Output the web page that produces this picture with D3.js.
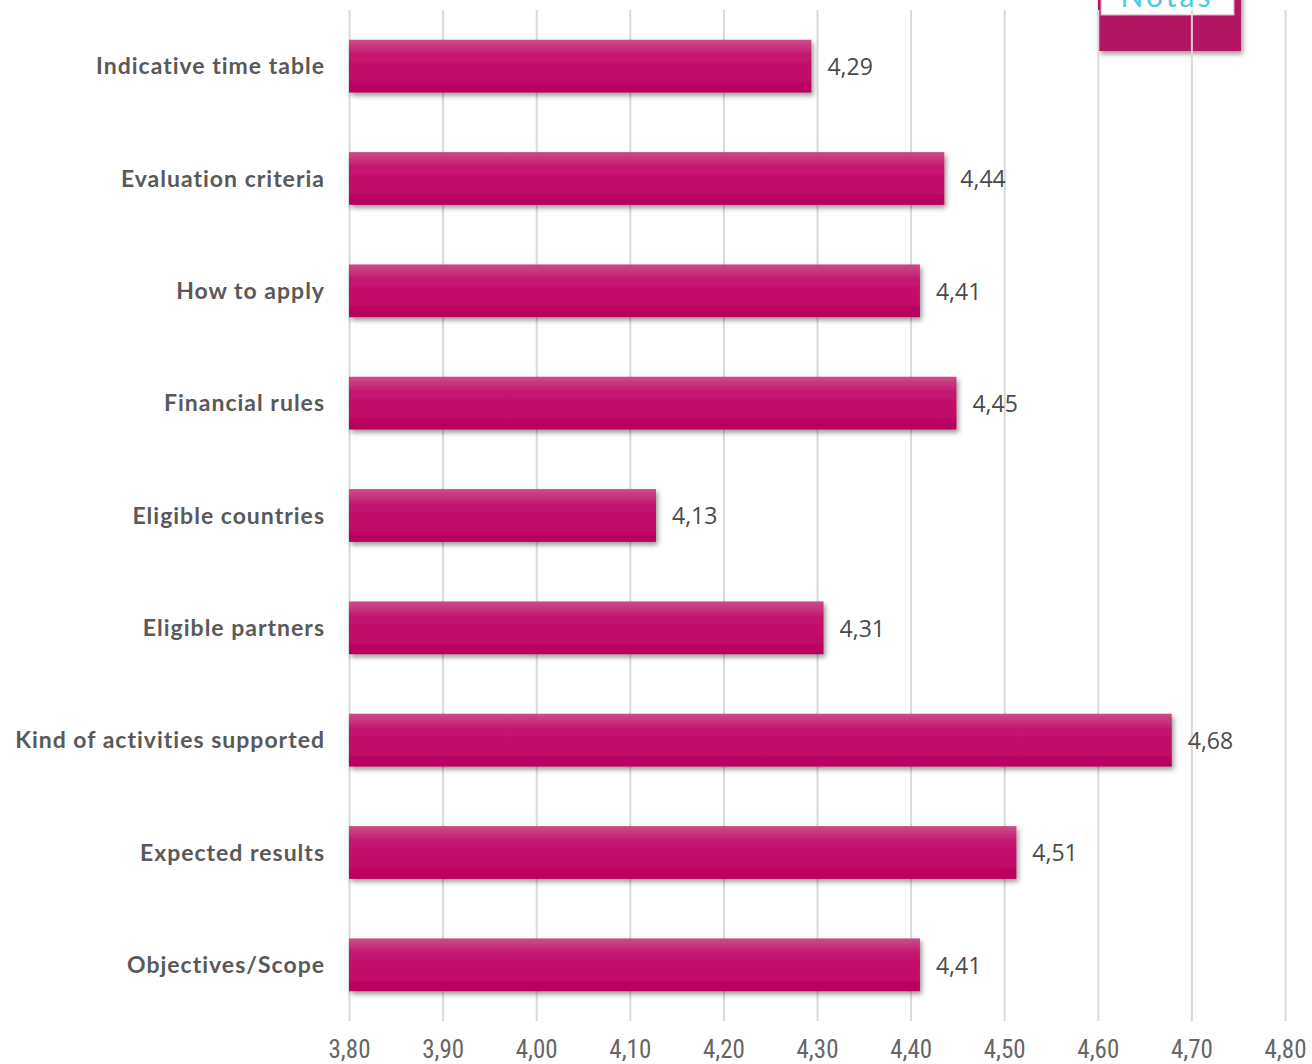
<!DOCTYPE html>
<html><head><meta charset="utf-8">
<script src="https://cdn.jsdelivr.net/npm/d3@7"></script>
<style>body{margin:0;background:#fff;} svg{display:block;}</style>
</head><body>
<svg id="c" width="1312" height="1064"></svg>
<script>
const categories = ["Indicative time table","Evaluation criteria","How to apply","Financial rules","Eligible countries","Eligible partners","Kind of activities supported","Expected results","Objectives/Scope"];
const values = [4.294,4.436,4.41,4.449,4.128,4.307,4.679,4.513,4.41];
const ticks = [3.8,3.9,4.0,4.1,4.2,4.3,4.4,4.5,4.6,4.7,4.8];
const logoText = "Notas";

const svg = d3.select("#c");
const defs = svg.append("defs");
const g = defs.append("linearGradient").attr("id","bg").attr("x1",0).attr("y1",0).attr("x2",0).attr("y2",1);
g.append("stop").attr("offset","0%").attr("stop-color","#cb4e86");
g.append("stop").attr("offset","30%").attr("stop-color","#c4156f");
g.append("stop").attr("offset","70%").attr("stop-color","#c20a68");
g.append("stop").attr("offset","100%").attr("stop-color","#b5005c");
const f = defs.append("filter").attr("id","sh").attr("x","-5%").attr("y","-20%").attr("width","115%").attr("height","160%");
f.append("feDropShadow").attr("dx",2).attr("dy",3).attr("stdDeviation",2.5).attr("flood-color","#000").attr("flood-opacity",0.4);

const x = d3.scaleLinear().domain([3.8,4.8]).range([349,1285]);
const y = d3.scaleBand().domain(categories).range([10,1021]).paddingInner(0.53).paddingOuter(0.265);

// logo box
svg.append("rect").attr("x",1098).attr("y",-10).attr("width",143).attr("height",61).attr("fill","#b31562").attr("filter","url(#sh)");
svg.append("rect").attr("x",1101).attr("y",-10).attr("width",133).attr("height",25).attr("fill","#fff").attr("stroke","#e3a6c2").attr("stroke-width",1);
svg.append("text").attr("x",1167).attr("y",7).attr("text-anchor","middle").attr("font-family","Lato, sans-serif").attr("font-size",30).attr("letter-spacing",3).attr("fill","#4dc9d9").text(logoText);

// gridlines
const grid = svg.append("g").call(d3.axisBottom(x).tickValues(ticks).tickSize(1011).tickFormat(""))
  .attr("transform","translate(0,10)");
grid.select(".domain").remove();
grid.selectAll("line").attr("stroke","#d9d9d9").attr("stroke-width",2);

// tick labels
const fmt = v => d3.format(".2f")(v).replace(".",",");
const ax = svg.append("g").attr("transform","translate(0,1050)").call(d3.axisBottom(x).tickValues(ticks).tickSize(0).tickFormat(fmt));
ax.select(".domain").remove();
ax.selectAll("text").attr("font-family","'Liberation Sans Narrow','Roboto Condensed',Roboto,sans-serif").attr("font-size",25).attr("fill","#666").attr("dy","0.32em").attr("y",0);

// bars
svg.append("g").selectAll("rect").data(values).join("rect")
  .attr("x",x(3.8)).attr("y",(d,i)=>y(categories[i])).attr("height",y.bandwidth())
  .attr("width",d=>x(d)-x(3.8)).attr("fill","url(#bg)").attr("filter","url(#sh)");

// value labels
svg.append("g").selectAll("text").data(values).join("text")
  .attr("x",d=>x(d)+16).attr("y",(d,i)=>y(categories[i])+y.bandwidth()/2).attr("dy","0.38em")
  .attr("font-family","'Open Sans',sans-serif").attr("font-size",23).attr("fill","#4a4a4a")
  .text(d=>fmt(d));

// category labels
svg.append("g").selectAll("text").data(categories).join("text")
  .attr("x",325).attr("y",d=>y(d)+y.bandwidth()/2).attr("dy","0.35em").attr("text-anchor","end")
  .attr("font-family","Lato, sans-serif").attr("font-weight","bold").attr("font-size",23).attr("letter-spacing",1).attr("fill","#595959")
  .text(d=>d);
</script>
</body></html>
